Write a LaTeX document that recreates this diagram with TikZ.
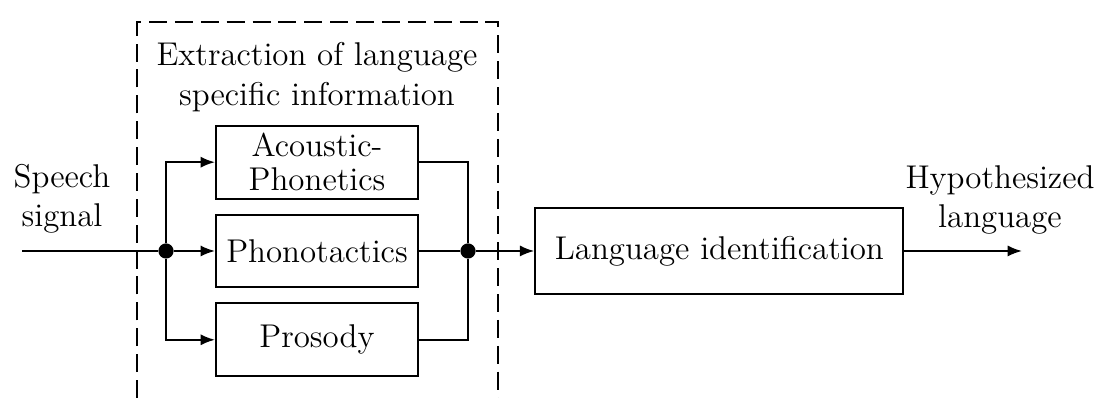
\documentclass[tikz,border=0pt]{standalone}
\usepackage{tikz}
\usetikzlibrary{arrows.meta, positioning}

\begin{document}
\begin{tikzpicture}[x=0.0125cm, y=-0.0125cm, node distance=0.175cm,
                font=\fontsize{11.7}{14}\selectfont,
                % Define styles
                block/.style={rectangle, draw, line width=0.7pt, text centered, align=center, minimum width=2.525cm, minimum height=0.91cm, inner sep=2pt},
                label text/.style={align=center, inner sep=0pt},
                dot/.style={circle, fill, inner sep=0pt, minimum size=0.19cm},
                line/.style={draw, line width=0.7pt, -{Latex[length=0.18cm, width=0.14cm]}},
                wire/.style={draw, line width=0.7pt},
                frame/.style={draw, line width=0.7pt, dash pattern=on 6.4pt off 2.8pt}
            ]
            \useasboundingbox (0,0) rectangle (1099,398);

            % --- Nodes ---

            % Feature extraction blocks
            \node [block] (phono) at (317,251) {Phonotactics};
            \node [block, above=of phono] (acoustic) {Acoustic-\\[-2pt]Phonetics};
            \node [block, below=of phono] (prosody) {Prosody};

            % Language identification
            \node [block, right=1.44cm of phono, minimum width=4.6cm, minimum height=1.075cm] (lid) {Language identification};

            % Junctions
            \node [dot] (split) at (166,251) {};
            \node [dot] (merge) at (468,251) {};
            \coordinate (in) at (22,251);
            \coordinate (out) at (1022,251);

            % Labels
            \node [label text] (speech) at (62,199) {Speech\\signal};
            \node [label text] (hyp) at (1000,200) {Hypothesized\\language};
            \node [label text] (title) at (317,77) {Extraction of language\\specific information};

            % --- Edges ---
            \path [wire] (in) -- (split);
            \path [line] (split) |- (acoustic.west);
            \path [line] (split) -- (phono);
            \path [line] (split) |- (prosody.west);
            \path [wire] (acoustic.east) -| (merge);
            \path [wire] (phono) -- (merge);
            \path [wire] (prosody.east) -| (merge);
            \path [line] (merge) -- (lid);
            \path [line] (lid) -- (out);

            % --- Context box ---
            \draw [frame] (137,398) |- (498,22) -- (498,398);

\end{tikzpicture}
\end{document}
